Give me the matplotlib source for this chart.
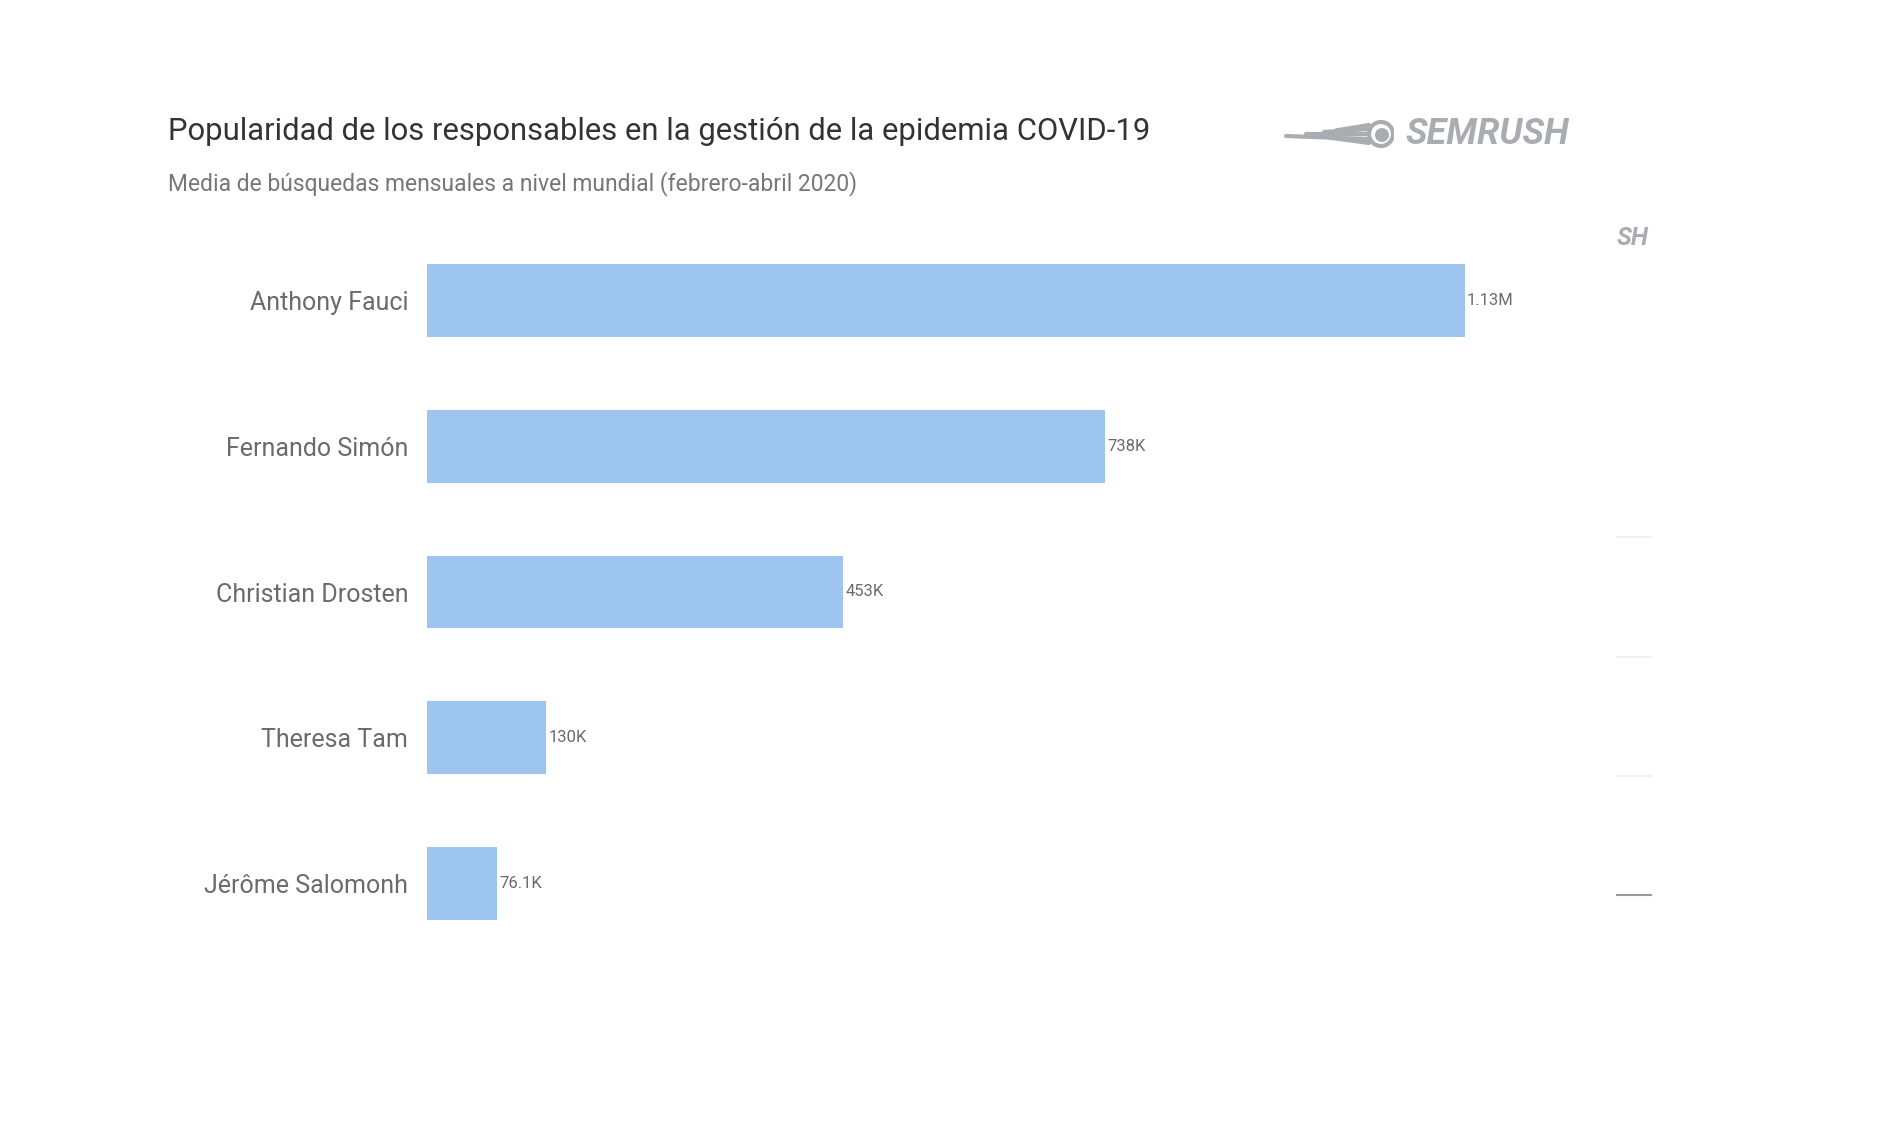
import numpy as np
import matplotlib.pyplot as plt
from matplotlib.patches import Circle

plt.rcParams['font.family'] = ['Roboto', 'DejaVu Sans']

# Data
names = ['Anthony Fauci', 'Fernando Simón', 'Christian Drosten', 'Theresa Tam', 'Jérôme Salomonh']
searches = [1130000, 738000, 453000, 130000, 76100]
value_labels = ['1.13M', '738K', '453K', '130K', '76.1K']

W, H = 1904, 1126
fig = plt.figure(figsize=(W / 100, H / 100), dpi=100)
fig.patch.set_facecolor('white')

# Main axes (pixel placement converted to figure fraction)
ax = fig.add_axes([427 / W, 1 - 956 / H, 1107 / W, 728 / H])
y = np.arange(len(names))
ax.barh(y, searches, height=0.5, color='#9dc5ef', edgecolor='none')
ax.set_xlim(0, 1205600)
ax.set_ylim(len(names) - 0.5, -0.5)
ax.set_yticks(y)
ax.set_yticklabels(names, fontsize=18, color='#6b6b6b')
ax.tick_params(axis='y', length=0, pad=13.5)
ax.set_xticks([])
for s in ax.spines.values():
    s.set_visible(False)

for yi, v, lab in zip(y, searches, value_labels):
    ax.text(v + 2500, yi, lab, va='center', ha='left', fontsize=12, color='#6b6b6b')

# Title and subtitle
fig.text(168 / W, 1 - 132 / H, 'Popularidad de los responsables en la gestión de la epidemia COVID-19',
         fontsize=22.3, color='#333333', va='center', ha='left')
fig.text(168 / W, 1 - 184 / H, 'Media de búsquedas mensuales a nivel mundial (febrero-abril 2020)',
         fontsize=16.5, color='#777777', va='center', ha='left')

# Logo (approximation)
logo_grey = '#a9adb2'
fig.text(1405 / W, 1 - 134 / H, 'SEMRUSH', fontsize=26, fontweight='bold', fontstyle='italic',
         color=logo_grey, va='center', ha='left')
lx = fig.add_axes([1284 / W, 1 - 152 / H, 110 / W, 36 / H])
lx.set_xlim(0, 110)
lx.set_ylim(0, 36)
lx.axis('off')
lx.add_patch(Circle((97, 18), 12, facecolor='none', edgecolor=logo_grey, linewidth=3))
lx.add_patch(Circle((98, 17), 7, facecolor=logo_grey, edgecolor='none'))
for dy, x0 in [(-5, 2), (0, 22), (5, 40), (9, 52), (-9, 45)]:
    lx.plot([x0, 85], [18 + dy * 0.4, 18 + dy], color=logo_grey, linewidth=3, solid_capstyle='round')

# Clipped fragments at right edge
fig.text(1617 / W, 1 - 238 / H, 'SH', fontsize=18, fontweight='bold', fontstyle='italic',
         color=logo_grey, va='center', ha='left')
for yy, c in [(537, '#f0f0f0'), (657, '#f0f0f0'), (776, '#f0f0f0'), (895, '#999999')]:
    fig.add_artist(plt.Line2D([1617 / W, 1651 / W], [1 - yy / H, 1 - yy / H], color=c, linewidth=1.5))

fig.savefig('out.png', dpi=100, facecolor='white')
